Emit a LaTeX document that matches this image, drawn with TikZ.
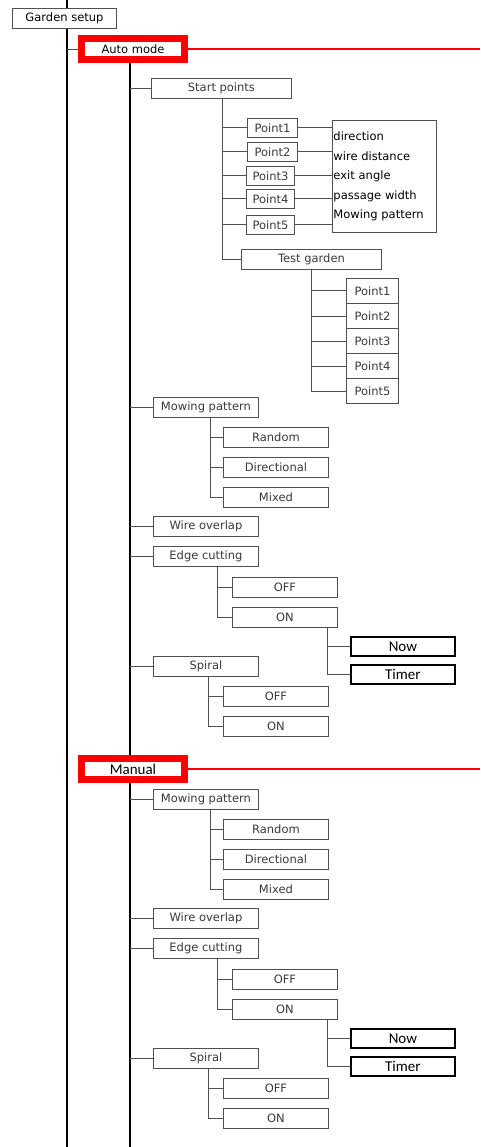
\documentclass[tikz,border=0pt]{standalone}
\usepackage{fontspec}
\setmainfont{DejaVu Sans}
\newfontfamily\carlito{Carlito}
\definecolor{boxgray}{HTML}{505050}
\definecolor{textgray}{HTML}{3A3A3A}
\definecolor{selred}{HTML}{FF0000}

\tikzset{
  item/.style={draw=boxgray,fill=white,text=textgray,line width=0.9pt,inner sep=0pt,
    anchor=north west,minimum height=20pt,font=\fontsize{11.5}{13}\selectfont},
  itemhot/.style={item,draw=black,text=black,line width=1.8pt,minimum height=19pt,
    font=\carlito\fontsize{15}{17}\selectfont},
  modebox/.style={draw=selred,fill=white,line width=7pt,minimum width=102.5pt,
    minimum height=21pt,inner sep=0pt,font=\fontsize{11.5}{13}\selectfont},
  link/.style={draw=boxgray,line width=0.9pt},
  spine/.style={draw=black,line width=1.8pt},
  redline/.style={draw=selred,line width=1.5pt}
}

\begin{document}
\begin{tikzpicture}[x=1pt,y=-1pt]
\useasboundingbox (0,0) rectangle (480,1147);
\coordinate (top) at (67,0);
\coordinate (bottom) at (67,1147);
\coordinate (rightedge) at (480,0);
\draw[spine] (top) -- (bottom);

\node[item,text=black,minimum width=104pt] (garden) at (12,8) {Garden setup};

% modes
\node[modebox] (auto) at (133,49) {Auto mode};
\node[modebox,font=\carlito\fontsize{15}{17}\selectfont] (manual) at (133,769) {Manual};
\coordinate (aspine) at ([xshift=-3pt]auto.south);
\coordinate (mspine) at ([xshift=-3pt]manual.south);
\draw[link] (auto.west -| top) -- (auto.west);
\draw[redline] (auto.east) -- (auto.east -| rightedge);
\draw[redline] (manual.east) -- (manual.east -| rightedge);
\draw[spine] (aspine) -- ([xshift=-3pt]manual.north);
\draw[spine] (mspine) -- (mspine |- bottom);

% auto mode
\node[item,minimum width=140pt] (start) at (151,78) {Start points};
\node[item,minimum width=50pt,minimum height=19pt] (sp1) at (247,118) {Point1};
\node[item,minimum width=50pt,minimum height=19pt] (sp2) at (247,142) {Point2};
\node[item,minimum width=48pt,minimum height=19pt] (sp3) at (246,166) {Point3};
\node[item,minimum width=48pt,minimum height=19pt] (sp4) at (246,189) {Point4};
\node[item,minimum width=48pt,minimum height=19pt] (sp5) at (246,215) {Point5};
\node[item,text=black,text width=102pt,inner xsep=1pt,minimum height=112pt,align=left,
  font=\fontsize{11.5}{19.5}\selectfont] (params) at (332,120)
  {direction\\wire distance\\exit angle\\passage width\\Mowing pattern};
\node[item,minimum width=140pt] (test) at (241,249) {Test garden};
\node[item,minimum width=52pt,minimum height=25pt] (tp1) at (346,278) {Point1};
\node[item,minimum width=52pt,minimum height=25pt] (tp2) at (346,303) {Point2};
\node[item,minimum width=52pt,minimum height=25pt] (tp3) at (346,328) {Point3};
\node[item,minimum width=52pt,minimum height=25pt] (tp4) at (346,353) {Point4};
\node[item,minimum width=52pt,minimum height=25pt] (tp5) at (346,378) {Point5};

\node[item,minimum width=105pt] (amow) at (153,397) {Mowing pattern};
\node[item,minimum width=105pt] (arand) at (223,427) {Random};
\node[item,minimum width=105pt] (adir) at (223,457) {Directional};
\node[item,minimum width=105pt] (amix) at (223,487) {Mixed};
\node[item,minimum width=105pt] (awire) at (153,516) {Wire overlap};
\node[item,minimum width=105pt] (aedge) at (153,546) {Edge cutting};
\node[item,minimum width=105pt] (aeoff) at (232,577) {OFF};
\node[item,minimum width=105pt] (aeon) at (232,607) {ON};
\node[itemhot,minimum width=104pt] (anow) at (350,636) {Now};
\node[itemhot,minimum width=104pt] (atimer) at (350,664) {Timer};
\node[item,minimum width=105pt] (aspiral) at (153,656) {Spiral};
\node[item,minimum width=105pt] (asoff) at (223,686) {OFF};
\node[item,minimum width=105pt] (ason) at (223,716) {ON};

\draw[link] (start.west -| aspine) -- (start.west);
\draw[link] (amow.west -| aspine) -- (amow.west);
\draw[link] (awire.west -| aspine) -- (awire.west);
\draw[link] (aedge.west -| aspine) -- (aedge.west);
\draw[link] (aspiral.west -| aspine) -- (aspiral.west);

\draw[link] ([xshift=1pt]start.south) |- (sp1.west);
\draw[link] ([xshift=1pt]start.south) |- (sp2.west);
\draw[link] ([xshift=1pt]start.south) |- (sp3.west);
\draw[link] ([xshift=1pt]start.south) |- (sp4.west);
\draw[link] ([xshift=1pt]start.south) |- (sp5.west);
\draw[link] ([xshift=1pt]start.south) |- (test.west);
\draw[link] (sp1.east) -- (sp1.east -| params.west);
\draw[link] (sp2.east) -- (sp2.east -| params.west);
\draw[link] (sp3.east) -- (sp3.east -| params.west);
\draw[link] (sp4.east) -- (sp4.east -| params.west);
\draw[link] (sp5.east) -- (sp5.east -| params.west);
\draw[link] (test.south) |- (tp1.west);
\draw[link] (test.south) |- (tp2.west);
\draw[link] (test.south) |- (tp3.west);
\draw[link] (test.south) |- (tp4.west);
\draw[link] (test.south) |- (tp5.west);

\draw[link] ([xshift=4.5pt]amow.south) |- (arand.west);
\draw[link] ([xshift=4.5pt]amow.south) |- (adir.west);
\draw[link] ([xshift=4.5pt]amow.south) |- (amix.west);
\draw[link] ([xshift=11.5pt]aedge.south) |- (aeoff.west);
\draw[link] ([xshift=11.5pt]aedge.south) |- (aeon.west);
\draw[link] ([xshift=42.5pt]aeon.south) |- (anow.west);
\draw[link] ([xshift=42.5pt]aeon.south) |- (atimer.west);
\draw[link] ([xshift=2.5pt]aspiral.south) |- (asoff.west);
\draw[link] ([xshift=2.5pt]aspiral.south) |- (ason.west);

% manual
\node[item,minimum width=105pt] (mmow) at (153,789) {Mowing pattern};
\node[item,minimum width=105pt] (mrand) at (223,819) {Random};
\node[item,minimum width=105pt] (mdir) at (223,849) {Directional};
\node[item,minimum width=105pt] (mmix) at (223,879) {Mixed};
\node[item,minimum width=105pt] (mwire) at (153,908) {Wire overlap};
\node[item,minimum width=105pt] (medge) at (153,938) {Edge cutting};
\node[item,minimum width=105pt] (meoff) at (232,969) {OFF};
\node[item,minimum width=105pt] (meon) at (232,999) {ON};
\node[itemhot,minimum width=104pt] (mnow) at (350,1028) {Now};
\node[itemhot,minimum width=104pt] (mtimer) at (350,1056) {Timer};
\node[item,minimum width=105pt] (mspiral) at (153,1048) {Spiral};
\node[item,minimum width=105pt] (msoff) at (223,1078) {OFF};
\node[item,minimum width=105pt] (mson) at (223,1108) {ON};

\draw[link] (mmow.west -| mspine) -- (mmow.west);
\draw[link] (mwire.west -| mspine) -- (mwire.west);
\draw[link] (medge.west -| mspine) -- (medge.west);
\draw[link] (mspiral.west -| mspine) -- (mspiral.west);

\draw[link] ([xshift=4.5pt]mmow.south) |- (mrand.west);
\draw[link] ([xshift=4.5pt]mmow.south) |- (mdir.west);
\draw[link] ([xshift=4.5pt]mmow.south) |- (mmix.west);
\draw[link] ([xshift=11.5pt]medge.south) |- (meoff.west);
\draw[link] ([xshift=11.5pt]medge.south) |- (meon.west);
\draw[link] ([xshift=42.5pt]meon.south) |- (mnow.west);
\draw[link] ([xshift=42.5pt]meon.south) |- (mtimer.west);
\draw[link] ([xshift=2.5pt]mspiral.south) |- (msoff.west);
\draw[link] ([xshift=2.5pt]mspiral.south) |- (mson.west);
\end{tikzpicture}
\end{document}
